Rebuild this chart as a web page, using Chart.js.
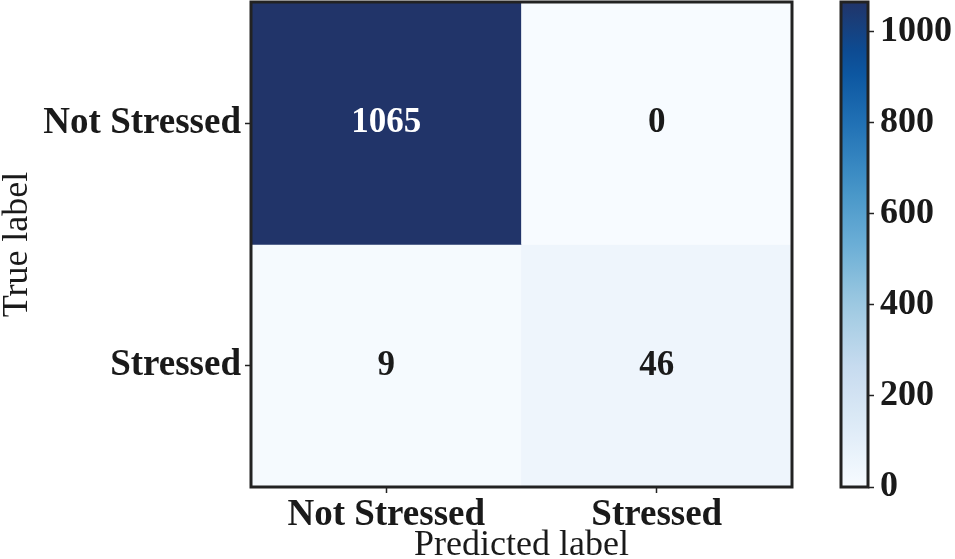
<!DOCTYPE html>
<html>
<head>
<meta charset="utf-8">
<script src="https://cdn.jsdelivr.net/npm/chart.js@4"></script>
<style>
    body { margin: 0; background: #fff; }
    #wrap { position: relative; width: 955px; height: 559px; }
    #matrix { position: absolute; left: 0; top: 0; }
    #colorbar { position: absolute; left: 800px; top: 0; }
</style>
</head>
<body>
<div id="wrap">
    <canvas id="matrix" width="800" height="559"></canvas>
    <canvas id="colorbar" width="155" height="559"></canvas>
</div>
<script>
const predictedLabels = ["Not Stressed", "Stressed"];
const trueLabels = ["Not Stressed", "Stressed"];
const rowNotStressed = [1065, 0];
const rowStressed = [9, 46];
const colorbarTicks = [0, 200, 400, 600, 800, 1000];

const counts = [rowNotStressed, rowStressed];
const maxCount = Math.max(...rowNotStressed, ...rowStressed);

// Blues colormap, top end a bit darker like the picture
const blues = [
    [247, 251, 255],
    [222, 235, 247],
    [198, 219, 239],
    [158, 202, 225],
    [107, 174, 214],
    [66, 146, 198],
    [33, 113, 181],
    [8, 81, 156],
    [33, 52, 105],
];

function colorAt(t) {
    t = Math.max(0, Math.min(1, t));
    const pos = t * (blues.length - 1);
    const i = Math.min(Math.floor(pos), blues.length - 2);
    const f = pos - i;
    const c = blues[i].map((v, k) => Math.round(v + (blues[i + 1][k] - v) * f));
    return `rgb(${c[0]},${c[1]},${c[2]})`;
}

const serif = "'Liberation Serif', 'DejaVu Serif', serif";
const ink = "#1a1a1a";
Chart.defaults.font.family = serif;
Chart.defaults.color = ink;

const framePlugin = {
    id: "frame",
    afterDraw(chart) {
        const { ctx, chartArea } = chart;
        ctx.save();
        ctx.strokeStyle = "#222";
        ctx.lineWidth = 3;
        ctx.strokeRect(chartArea.left, chartArea.top,
            chartArea.right - chartArea.left, chartArea.bottom - chartArea.top);
        ctx.restore();
    },
};

const cellTextPlugin = {
    id: "cellText",
    afterDatasetsDraw(chart) {
        const { ctx } = chart;
        ctx.save();
        ctx.font = `bold 35px ${serif}`;
        ctx.textAlign = "center";
        ctx.textBaseline = "middle";
        chart.data.datasets.forEach((ds, di) => {
            const meta = chart.getDatasetMeta(di);
            meta.data.forEach((bar, j) => {
                const v = counts[di][j];
                ctx.fillStyle = v / maxCount > 0.5 ? "#fff" : ink;
                ctx.fillText(String(v), bar.x, (bar.y + bar.base) / 2);
            });
        });
        ctx.restore();
    },
};

// no extra room for labels that hang over the ends of an axis
function noOverhang(scale) {
    scale.paddingTop = 0;
    scale.paddingBottom = 0;
    scale.paddingLeft = 0;
    scale.paddingRight = 0;
}

const tickGrid = {
    display: true,
    drawOnChartArea: false,
    tickLength: 6,
    tickColor: "#222",
    tickWidth: 1.5,
};

// each true-label row is a band on the y axis (top row = Not Stressed)
const datasets = counts.map((row, i) => {
    const band = trueLabels.length - 1 - i;
    return {
        label: trueLabels[i],
        data: row.map(() => [band, band + 1]),
        backgroundColor: row.map((v) => colorAt(v / maxCount)),
        borderWidth: 0,
        grouped: false,
        barPercentage: 1,
        categoryPercentage: 1,
    };
});

new Chart(document.getElementById("matrix"), {
    type: "bar",
    data: { labels: predictedLabels, datasets },
    options: {
        responsive: false,
        animation: false,
        layout: { padding: { top: 2, right: 8, left: 0, bottom: 0 } },
        plugins: { legend: { display: false }, tooltip: { enabled: false } },
        scales: {
            x: {
                grid: { ...tickGrid, offset: false },
                border: { display: false },
                ticks: { font: { size: 37, weight: "bold" }, padding: 0 },
                title: {
                    display: true,
                    text: "Predicted label",
                    font: { size: 36, lineHeight: 0.75 },
                    padding: { top: 0, bottom: 0 },
                },
                afterFit(scale) {
                    scale.height = 72;
                    noOverhang(scale);
                },
            },
            y: {
                min: 0,
                max: trueLabels.length,
                afterBuildTicks(scale) {
                    scale.ticks = trueLabels.map((_, i) => ({ value: i + 0.5 }));
                },
                grid: tickGrid,
                border: { display: false },
                ticks: {
                    font: { size: 37, weight: "bold" },
                    padding: 4,
                    callback: (value) => trueLabels[trueLabels.length - 1 - Math.floor(value)],
                },
                title: {
                    display: true,
                    text: "True label",
                    font: { size: 36, lineHeight: 1 },
                    padding: { top: 0, bottom: 0 },
                },
                afterFit(scale) {
                    scale.width = 251;
                    noOverhang(scale);
                },
            },
        },
    },
    plugins: [framePlugin, cellTextPlugin],
});

new Chart(document.getElementById("colorbar"), {
    type: "bar",
    data: {
        labels: [""],
        datasets: [
            {
                data: [[0, maxCount]],
                backgroundColor(context) {
                    const { ctx, chartArea } = context.chart;
                    if (!chartArea) return null;
                    const g = ctx.createLinearGradient(0, chartArea.bottom, 0, chartArea.top);
                    for (let k = 0; k <= 20; k++) g.addColorStop(k / 20, colorAt(k / 20));
                    return g;
                },
                borderWidth: 0,
                barPercentage: 1,
                categoryPercentage: 1,
            },
        ],
    },
    options: {
        responsive: false,
        animation: false,
        layout: { padding: { top: 2, left: 41, right: 0, bottom: 72 } },
        plugins: { legend: { display: false }, tooltip: { enabled: false } },
        scales: {
            x: { display: false },
            y: {
                position: "right",
                min: 0,
                max: maxCount,
                afterBuildTicks(scale) {
                    scale.ticks = colorbarTicks.map((v) => ({ value: v }));
                },
                grid: tickGrid,
                border: { display: false },
                ticks: {
                    font: { size: 36, weight: "bold" },
                    padding: 6,
                    callback: (value) => String(value),
                },
                afterFit(scale) {
                    scale.width = 87;
                    noOverhang(scale);
                },
            },
        },
    },
    plugins: [framePlugin],
});
</script>
</body>
</html>
